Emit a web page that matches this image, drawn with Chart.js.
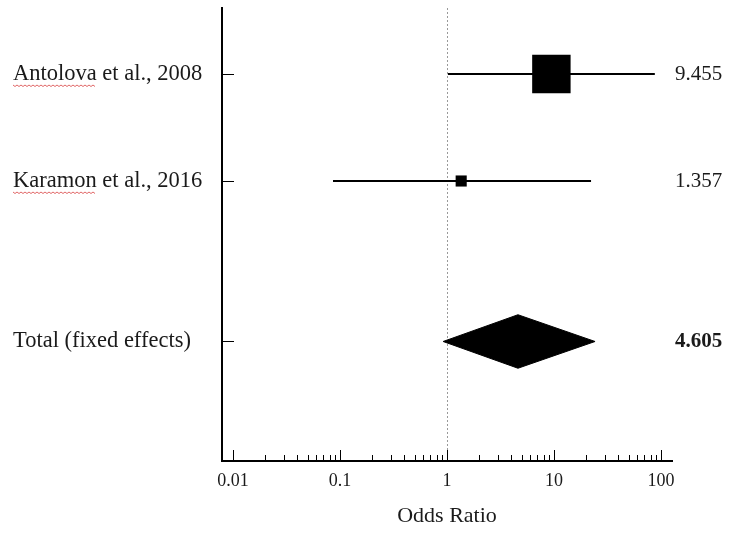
<!DOCTYPE html>
<html>
<head>
<meta charset="utf-8">
<script src="https://cdn.jsdelivr.net/npm/chart.js@4.4.1/dist/chart.umd.min.js"></script>
<style>
html, body { margin: 0; padding: 0; background: #fff; }
#wrap { width: 734px; height: 538px; }
</style>
</head>
<body>
<div id="wrap"><canvas id="myChart"></canvas></div>
<script>
// study data (odds ratios with 95% CI)
const studies = ["Antolova et al., 2008", "Karamon et al., 2016"];
const oddsRatio = [9.455, 1.357];
const ciLower = [1.02, 0.086];
const ciUpper = [87.6, 22.2];
const weights = [92.3, 7.7];
const valueLabels = ["9.455", "1.357"];

const pooledLabel = "Total (fixed effects)";
const pooledOR = [4.605];
const pooledLower = [0.92];
const pooledUpper = [24.2];
const pooledValueLabel = "4.605";

const xTickLabels = ["0.01", "0.1", "1", "10", "100"];
const xTitle = "Odds Ratio";

const serif = '"Liberation Serif", "Times New Roman", serif';
const rowY = [0, 1];
const pooledY = 2.5;
const diamondHalf = 0.25;

const datasets = [];
studies.forEach(function (s, i) {
  datasets.push({
    data: [{ x: ciLower[i], y: rowY[i] }, { x: ciUpper[i], y: rowY[i] }],
    showLine: true, borderColor: "#000", borderWidth: 2, pointRadius: 0
  });
});
datasets.push({
  data: oddsRatio.map(function (v, i) { return { x: v, y: rowY[i] }; }),
  pointStyle: "rect",
  pointRadius: weights.map(function (w) { return 40 * Math.sqrt(w / 100) / 2 / Math.SQRT1_2; }),
  backgroundColor: "#000", borderWidth: 0
});
datasets.push({
  data: [
    { x: pooledLower[0], y: pooledY },
    { x: pooledOR[0], y: pooledY - diamondHalf },
    { x: pooledUpper[0], y: pooledY },
    { x: pooledOR[0], y: pooledY + diamondHalf },
    { x: pooledLower[0], y: pooledY }
  ],
  showLine: true, fill: "shape", backgroundColor: "#000",
  borderColor: "#000", borderWidth: 1, pointRadius: 0, tension: 0
});

function isDecade(v) {
  const l = Math.log10(v);
  return Math.abs(l - Math.round(l)) < 1e-9;
}

const extras = {
  id: "extras",
  beforeDatasetsDraw: function (chart) {
    const ctx = chart.ctx, xs = chart.scales.x, a = chart.chartArea;
    const px = Math.round(xs.getPixelForValue(1)) + 0.5;
    ctx.save();
    ctx.strokeStyle = "#999";
    ctx.lineWidth = 1;
    ctx.setLineDash([2, 2]);
    ctx.beginPath();
    ctx.moveTo(px, a.top);
    ctx.lineTo(px, a.bottom);
    ctx.stroke();
    ctx.restore();
  },
  afterDraw: function (chart) {
    const ctx = chart.ctx, xs = chart.scales.x, ys = chart.scales.y, a = chart.chartArea;
    ctx.save();
    ctx.strokeStyle = "#000";
    ctx.lineWidth = 1;
    // x tick marks pointing up
    xs.ticks.forEach(function (t) {
      const px = Math.round(xs.getPixelForValue(t.value)) + 0.5;
      const len = isDecade(t.value) ? 11 : 6;
      ctx.beginPath();
      ctx.moveTo(px, a.bottom);
      ctx.lineTo(px, a.bottom - len);
      ctx.stroke();
    });
    // y tick marks pointing right
    ys.ticks.forEach(function (t) {
      const py = Math.round(ys.getPixelForValue(t.value)) + 0.5;
      ctx.beginPath();
      ctx.moveTo(a.left, py);
      ctx.lineTo(a.left + 12, py);
      ctx.stroke();
    });
    // value labels on the right
    ctx.fillStyle = "#1a1a1a";
    ctx.textAlign = "left";
    ctx.textBaseline = "middle";
    ctx.font = "21px " + serif;
    valueLabels.forEach(function (lab, i) {
      ctx.fillText(lab, a.right + 3, ys.getPixelForValue(rowY[i]));
    });
    ctx.font = "bold 21px " + serif;
    ctx.fillText(pooledValueLabel, a.right + 3, ys.getPixelForValue(pooledY));
    // spell-check squiggles under the first word of each study
    ctx.font = "22.5px " + serif;
    ctx.strokeStyle = "#e06666";
    studies.forEach(function (s, i) {
      const w = ctx.measureText(s.split(" ")[0]).width;
      const y = ys.getPixelForValue(rowY[i]) + 11;
      ctx.beginPath();
      for (let x = 0; x <= w; x += 2) {
        const yy = y + ((x / 2) % 2 === 0 ? 0 : 1.5);
        if (x === 0) ctx.moveTo(13 + x, yy); else ctx.lineTo(13 + x, yy);
      }
      ctx.stroke();
    });
    ctx.restore();
  }
};

new Chart("myChart", {
  type: "scatter",
  data: { datasets: datasets },
  plugins: [extras],
  options: {
    responsive: true,
    maintainAspectRatio: false,
    animation: false,
    layout: { autoPadding: false, padding: { left: 13, right: 62, top: 8, bottom: 0 } },
    plugins: { legend: { display: false }, tooltip: { enabled: false } },
    scales: {
      x: {
        type: "logarithmic",
        min: Math.pow(10, -2.103),
        max: Math.pow(10, 2.103),
        grid: { display: false },
        border: { display: true, width: 2, color: "#000" },
        afterBuildTicks: function (scale) {
          const t = [];
          for (let e = -2; e <= 2; e++) {
            for (let m = 1; m <= 9; m++) {
              const v = m * Math.pow(10, e);
              if (v <= 100.0001) t.push({ value: v });
            }
          }
          scale.ticks = t;
        },
        afterFit: function (scale) {
          scale.height = 77;
          scale.paddingLeft = 0;
          scale.paddingRight = 0;
        },
        ticks: {
          autoSkip: false, maxRotation: 0, padding: 1,
          color: "#1a1a1a", font: { family: serif, size: 18 },
          callback: function (v) {
            return isDecade(v) ? xTickLabels[Math.round(Math.log10(v)) + 2] : "";
          }
        },
        title: {
          display: true, text: xTitle, color: "#1a1a1a",
          font: { family: serif, size: 22 }, padding: { top: 4, bottom: 9 }
        }
      },
      y: {
        type: "linear",
        reverse: true,
        min: -0.617,
        max: 3.617,
        grid: { display: false },
        border: { display: true, width: 2, color: "#000" },
        afterBuildTicks: function (scale) {
          scale.ticks = rowY.concat([pooledY]).map(function (v) { return { value: v }; });
        },
        afterFit: function (scale) {
          scale.width = 209;
          scale.paddingTop = 0;
          scale.paddingBottom = 0;
        },
        ticks: {
          crossAlign: "far", color: "#1a1a1a",
          font: { family: serif, size: 22.5 },
          callback: function (v) {
            const i = rowY.indexOf(v);
            return i >= 0 ? studies[i] : pooledLabel;
          }
        }
      }
    }
  }
});
</script>
</body>
</html>
